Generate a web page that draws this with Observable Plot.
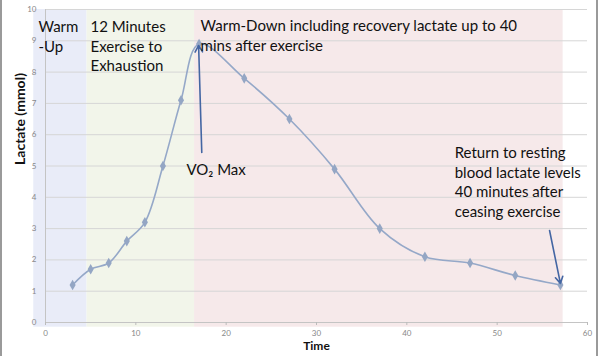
<!DOCTYPE html>
<html>
<head>
<meta charset="utf-8">
<script src="https://cdn.jsdelivr.net/npm/d3@7"></script>
<script src="https://cdn.jsdelivr.net/npm/@observablehq/plot@0.6"></script>
<style>
  html, body { margin: 0; padding: 0; background: #fff; }
  #wrap { position: relative; width: 600px; height: 356px; }
  .edge { position: absolute; top: 0; width: 2px; height: 356px; background: #9a9a9a; }
</style>
</head>
<body>
<div id="wrap">
  <div class="edge" style="left:0"></div>
  <div class="edge" style="left:596px"></div>
</div>
<script>
// Data
const time = [3, 5, 7, 9, 11, 13, 15, 17, 22, 27, 32, 37, 42, 47, 52, 57];
const lactate = [1.2, 1.7, 1.9, 2.6, 3.2, 5.0, 7.1, 8.9, 7.8, 6.5, 4.9, 3.0, 2.1, 1.9, 1.5, 1.2];

const phaseStart = [-1.3, 4.6, 16.5];
const phaseEnd = [4.6, 16.5, 57.3];
const phaseColor = ["#e9ecf8", "#f2f5ea", "#f6e9ea"];

const xTicks = [0, 10, 20, 30, 40, 50, 60];
const yTicks = [0, 1, 2, 3, 4, 5, 6, 7, 8, 9, 10];

const notes = [
  {x: -0.78, y: 9.71, text: "Warm\n-Up"},
  {x: 4.98, y: 9.71, text: "12 Minutes\nExercise to\nExhaustion"},
  {x: 17.17, y: 9.74, text: "Warm-Down including recovery lactate up to 40\nmins after exercise"},
  {x: 15.6, y: 5.14, text: "VO\u2082 Max"},
  {x: 45.3, y: 5.69, text: "Return to resting\nblood lactate levels\n40 minutes after\nceasing exercise"}
];
const arrows = [
  {x1: 17.3, y1: 5.43, x2: 16.95, y2: 8.85},
  {x1: 55.8, y1: 2.94, x2: 57, y2: 1.25}
];

const data = time.map((t, i) => ({t, v: lactate[i]}));
const phases = phaseStart.map((s, i) => ({s, e: phaseEnd[i], c: phaseColor[i]}));

const chart = Plot.plot({
  width: 600,
  height: 356,
  marginLeft: 45,
  marginRight: 13,
  marginTop: 9,
  marginBottom: 34,
  style: {fontFamily: "Lato, 'Open Sans', sans-serif", background: "transparent"},
  x: {domain: [0, 60], ticks: xTicks},
  y: {domain: [0, 10], ticks: yTicks},
  marks: [
    Plot.rect(phases, {x1: "s", x2: "e", y1: -0.15, y2: 10, fill: "c"}),
    Plot.ruleY(yTicks, {stroke: "#d6d6d6", strokeWidth: 1}),
    Plot.ruleY([0], {stroke: "#c4c4c4"}),
    Plot.ruleX([0], {stroke: "#c4c4c4"}),
    Plot.axisX({ticks: xTicks, tickSize: 3, tickPadding: 5, stroke: "#bbb", fill: "#888", fontSize: 8, label: null}),
    Plot.axisY({ticks: yTicks, tickSize: 0, tickPadding: 9, fill: "#888", fontSize: 8, label: null}),
    Plot.line(data, {x: "t", y: "v", curve: "catmull-rom", stroke: "#95a8c8", strokeWidth: 1.6}),
    Plot.dot(data, {x: "t", y: "v", symbol: "diamond", r: 3.2, fill: "#94a6c4", stroke: "none"}),
    Plot.arrow(arrows, {x1: "x1", y1: "y1", x2: "x2", y2: "y2", stroke: "#4466a3", strokeWidth: 1.6, headLength: 7}),
    Plot.text(notes, {x: "x", y: "y", text: "text", textAnchor: "start", lineAnchor: "top", lineHeight: 1.3, fontSize: 15, fill: "#111"}),
    Plot.text(["Lactate (mmol)"], {frameAnchor: "left", rotate: -90, dx: -25, dy: -1, fontSize: 14, fontWeight: "bold", fill: "#111"}),
    Plot.text(["Time"], {x: 30, frameAnchor: "bottom", dy: 27, fontSize: 12, fontWeight: "bold", fill: "#111"})
  ]
});
chart.style.position = "absolute";
chart.style.left = "0";
chart.style.top = "0";
document.getElementById("wrap").appendChild(chart);
</script>
</body>
</html>
